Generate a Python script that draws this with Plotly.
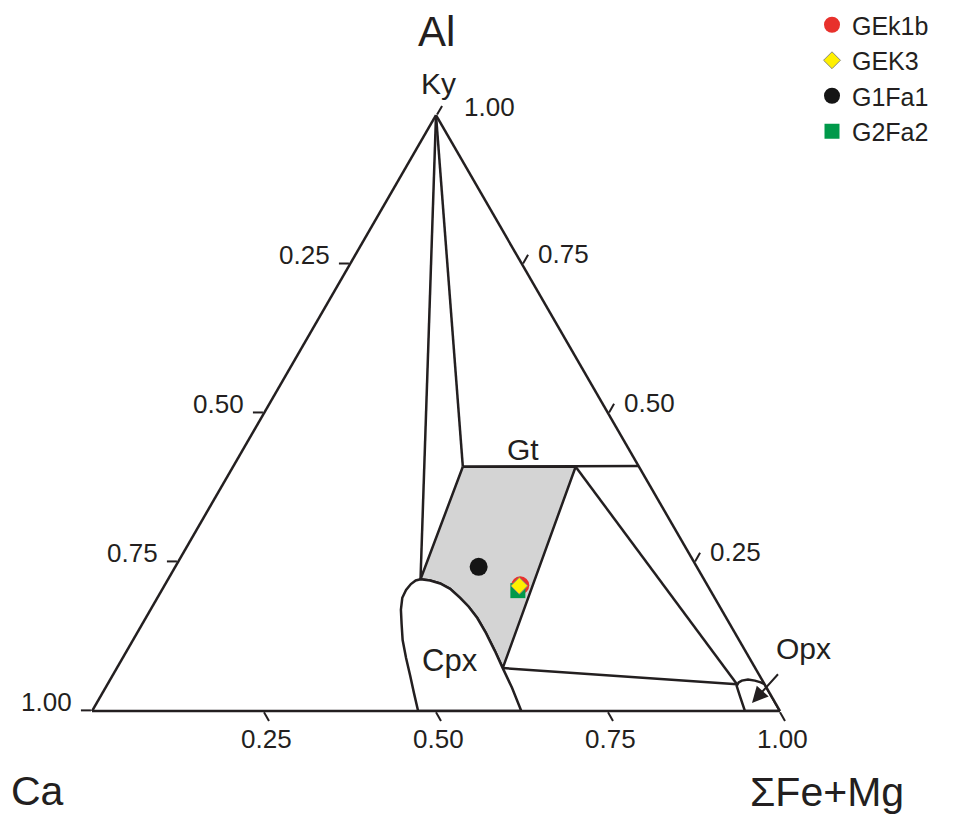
import plotly.graph_objects as go

FONT = "Liberation Sans, Arial, sans-serif"
INK = "#231f20"
W, H = 958, 814

# ---- compositions, each point as (Al, Ca, FeMg) fractions ----
KY = (1.0, 0.0, 0.0)
GT_TL = (0.410, 0.256, 0.334)
GT_TR = (0.410, 0.092, 0.498)
GT_EDGE = (0.411, 0.0, 0.589)
GT_BOT = (0.072, 0.367, 0.561)
CPX_TOP = (0.221, 0.412, 0.367)
OPX_TIE = (0.045, 0.040, 0.915)

# right (Fe-Mg side) limb of the Cpx field, from the top downwards
CPX_RIGHT = [
    (0.221, 0.412, 0.367), (0.219, 0.399, 0.382), (0.214, 0.387, 0.399),
    (0.205, 0.377, 0.418), (0.190, 0.370, 0.440), (0.175, 0.365, 0.460),
    (0.156, 0.362, 0.482), (0.131, 0.362, 0.507), (0.101, 0.364, 0.535),
    (0.072, 0.367, 0.561), (0.039, 0.370, 0.591), (0.000, 0.376, 0.624),
]
# left (Ca side) limb of the Cpx field, from the bottom upwards
CPX_LEFT = [
    (0.000, 0.526, 0.474), (0.030, 0.517, 0.453), (0.059, 0.508, 0.433),
    (0.089, 0.499, 0.412), (0.119, 0.489, 0.392), (0.146, 0.477, 0.377),
    (0.170, 0.466, 0.364), (0.190, 0.454, 0.356), (0.203, 0.442, 0.355),
    (0.213, 0.430, 0.357), (0.219, 0.420, 0.361),
]
OPX_FIELD = [
    (0.000, 0.051, 0.949), (0.024, 0.046, 0.930), (0.042, 0.042, 0.916),
    (0.048, 0.036, 0.916), (0.051, 0.030, 0.919), (0.053, 0.020, 0.927),
    (0.051, 0.011, 0.938), (0.048, 0.004, 0.948), (0.045, 0.000, 0.955),
    (0.000, 0.000, 1.000),
]

SAMPLES = ["GEk1b", "GEK3", "G1Fa1", "G2Fa2"]
SAMPLE_AL = [0.211, 0.210, 0.242, 0.202]
SAMPLE_CA = [0.272, 0.274, 0.317, 0.280]
SAMPLE_FEMG = [0.517, 0.516, 0.441, 0.518]

# tick values shown along each edge (Ca on the left, Fe+Mg along the bottom,
# Al on the right) and their labels
EDGE_TICKS = [0.25, 0.50, 0.75, 1.00]
EDGE_TICK_TEXT = ["0.25", "0.50", "0.75", "1.00"]
# plotly's ternary axes place ticks at the same spots (complementary values)
AXIS_TICKVALS = [0, 0.25, 0.5, 0.75]


def tern(points, **kw):
    return go.Scatterternary(
        a=[p[0] for p in points], b=[p[1] for p in points], c=[p[2] for p in points],
        hoverinfo="skip", showlegend=False, **kw)


LW = 2.5
fig = go.Figure()

# Gt field (grey)
gt_field = [GT_TL, GT_TR] + CPX_RIGHT[9::-1] + [GT_TL]
fig.add_trace(tern(gt_field, mode="lines", fill="toself", fillcolor="#d4d4d4",
                   line=dict(color=INK, width=LW)))
# Cpx field
cpx_field = CPX_RIGHT + CPX_LEFT + [CPX_RIGHT[0]]
fig.add_trace(tern(cpx_field, mode="lines", fill="toself", fillcolor="white",
                   line=dict(color=INK, width=LW)))
# Opx field
fig.add_trace(tern(OPX_FIELD + [OPX_FIELD[0]], mode="lines", fill="toself",
                   fillcolor="white", line=dict(color=INK, width=LW)))

# tie lines
for seg in [(KY, CPX_TOP), (KY, GT_TL), (GT_TL, GT_EDGE),
            (GT_TR, OPX_TIE), (GT_BOT, OPX_TIE)]:
    fig.add_trace(tern(list(seg), mode="lines", line=dict(color=INK, width=LW)))

# samples (drawing order differs from legend order)
styles = {
    "GEk1b": dict(symbol="circle", size=18, color="#e8312c", line=dict(width=0)),
    "GEK3": dict(symbol="diamond", size=13, color="#fff000",
                 line=dict(width=1, color="#8a8a7a")),
    "G1Fa1": dict(symbol="circle", size=18, color="#151515", line=dict(width=0)),
    "G2Fa2": dict(symbol="square", size=15, color="#00994a", line=dict(width=0)),
}
rank = {n: i + 1 for i, n in enumerate(SAMPLES)}
for name in ["G1Fa1", "GEk1b", "G2Fa2", "GEK3"]:
    i = SAMPLES.index(name)
    fig.add_trace(go.Scatterternary(
        a=[SAMPLE_AL[i]], b=[SAMPLE_CA[i]], c=[SAMPLE_FEMG[i]],
        mode="markers", name=name, marker=styles[name], legendrank=rank[name],
        hoverinfo="skip", cliponaxis=False))

axis_common = dict(
    showgrid=False, linecolor=INK, linewidth=LW, ticks="outside", ticklen=10,
    tickwidth=2, tickcolor=INK, tickmode="array", tickvals=AXIS_TICKVALS,
    ticktext=[""] * len(AXIS_TICKVALS), showticklabels=True,
    title=dict(text=""), min=0,
)

# triangle corners in pixels (follow from the ternary domain below)
CA_PX, FE_PX = (92.0, 711.0), (780.0, 711.0)
AL_PX = ((CA_PX[0] + FE_PX[0]) / 2, CA_PX[1] - (FE_PX[0] - CA_PX[0]) * 3 ** 0.5 / 2)

fig.update_layout(
    width=W, height=H,
    margin=dict(l=0, r=0, t=0, b=0),
    paper_bgcolor="white",
    font=dict(family=FONT, color=INK),
    ternary=dict(
        sum=1,
        bgcolor="white",
        domain=dict(x=[CA_PX[0] / W, FE_PX[0] / W],
                    y=[1 - CA_PX[1] / H, 1 - AL_PX[1] / H]),
        aaxis=axis_common,
        baxis=axis_common,
        caxis=axis_common,
    ),
    legend=dict(
        x=812 / W, y=1 - 2 / H, xanchor="left", yanchor="top",
        font=dict(family=FONT, size=25, color=INK),
        bgcolor="rgba(0,0,0,0)", itemsizing="trace",
    ),
    showlegend=True,
)


def px(x, y):
    return x / W, 1 - y / H


def lerp(p, q, t):
    return (p[0] + (q[0] - p[0]) * t, p[1] + (q[1] - p[1]) * t)


def label(text, x, y, size, xanchor="center"):
    xx, yy = px(x, y)
    fig.add_annotation(x=xx, y=yy, xref="paper", yref="paper", text=text,
                       showarrow=False, xanchor=xanchor, yanchor="middle",
                       font=dict(family=FONT, size=size, color=INK))


# edge tick labels
for v, t in zip(EDGE_TICKS, EDGE_TICK_TEXT):
    x, y = lerp(CA_PX, AL_PX, 1 - v)          # Ca along the left edge
    label(t, x - 18, y - 9, 26, "right")
    x, y = lerp(CA_PX, FE_PX, v)              # Fe+Mg along the bottom
    label(t, x + 2, y + 28, 26, "center")
    x, y = lerp(FE_PX, AL_PX, v)              # Al along the right edge
    if v < 1:
        label(t, x + 14, y - 10, 26, "left")
    else:
        label(t, x + 26, y - 8, 26, "left")

for text, x, y, s in [
    ("Al", 436, 32, 42),
    ("Ca", 37, 791, 41),
    ("\u03a3Fe+Mg", 827, 792, 41),
    ("Ky", 438, 84, 30),
    ("Gt", 523, 449, 30),
    ("Cpx", 450, 660, 31),
    ("Opx", 803, 648, 30),
]:
    label(text, x, y, s)

# arrow pointing into the Opx field
tx, ty = px(752, 703)
fig.add_annotation(x=tx, y=ty, xref="paper", yref="paper", text=" ",
                   showarrow=True, ax=28, ay=-31, arrowhead=2, arrowsize=1.6,
                   arrowwidth=2, arrowcolor=INK, font=dict(size=2))

fig.write_html("out.html", config={"displayModeBar": False},
               post_script="document.body.style.margin='0px';")
